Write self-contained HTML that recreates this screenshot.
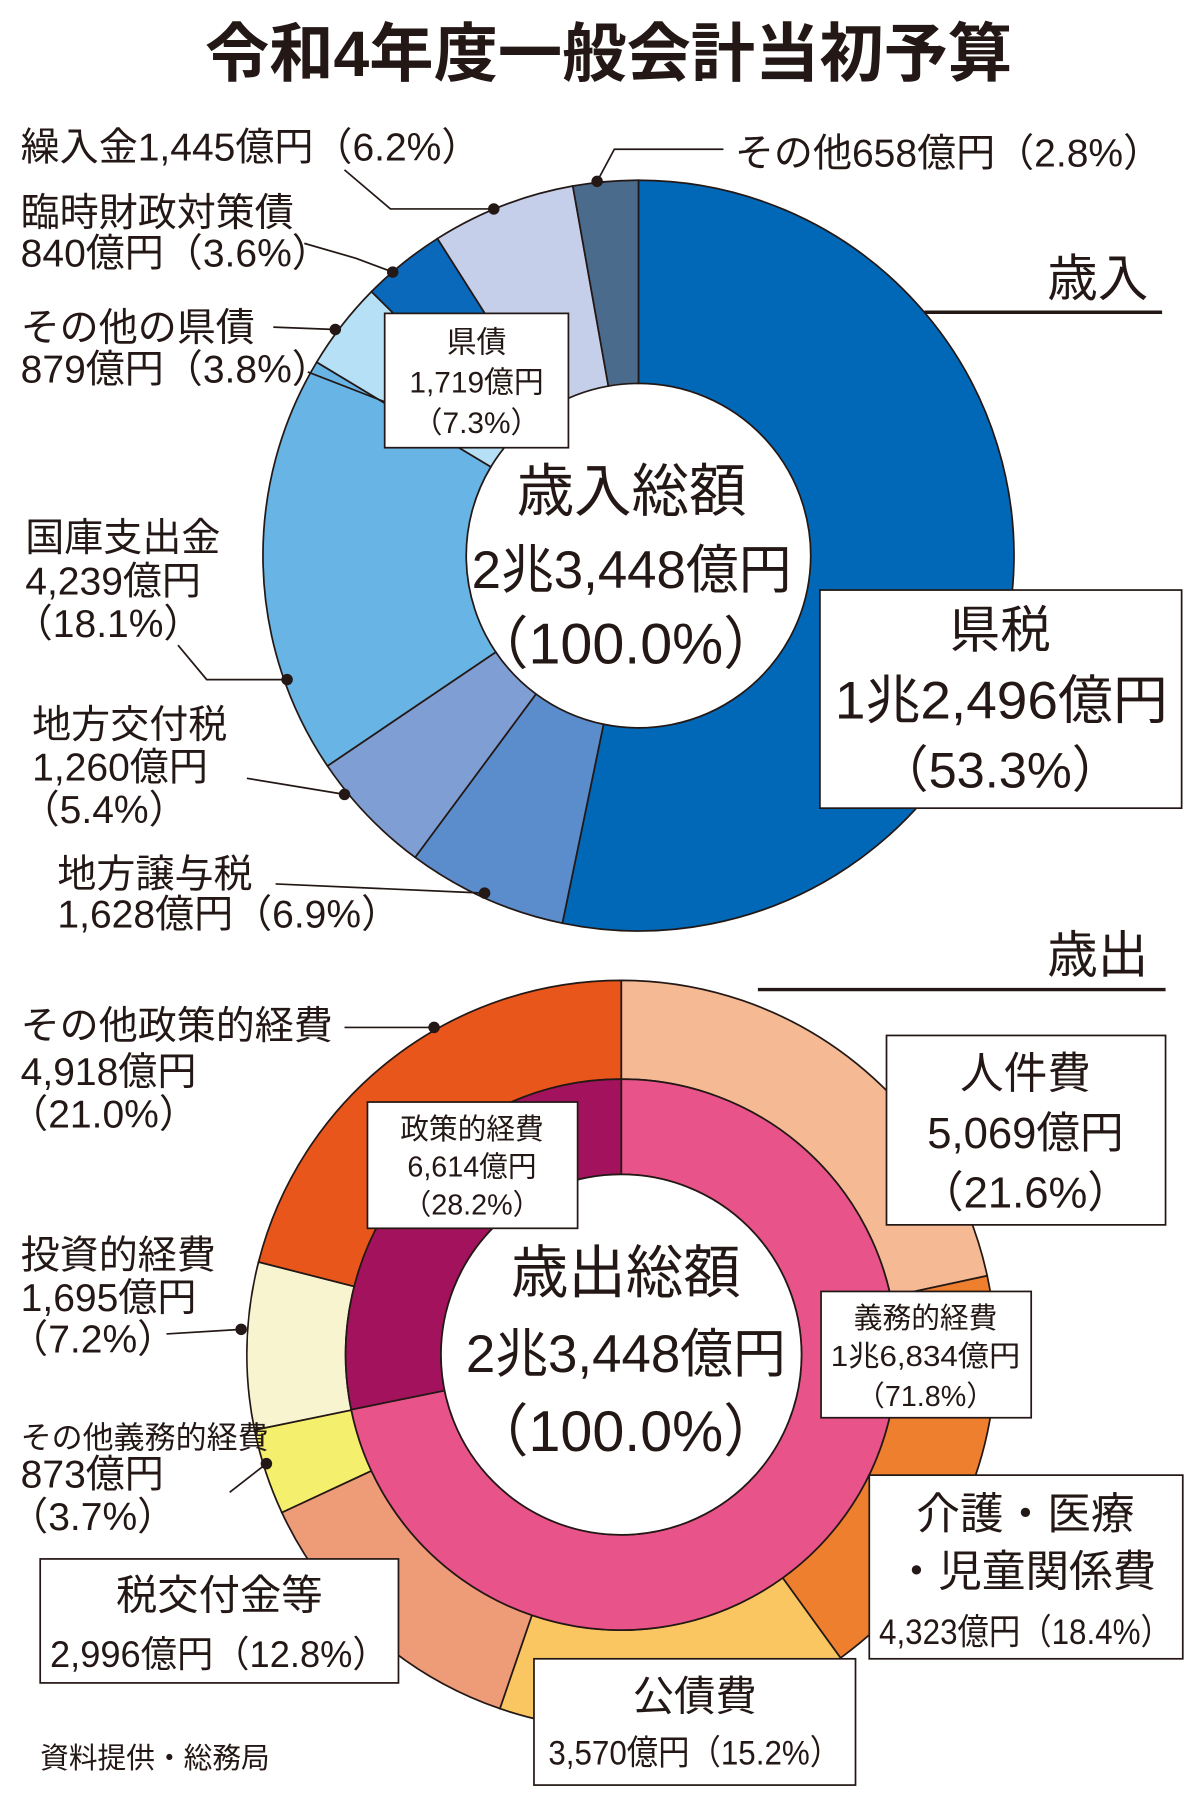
<!DOCTYPE html>
<html><head><meta charset="utf-8"><style>
html,body{margin:0;padding:0;background:#fff;}
svg{display:block;}
text{font-family:"Liberation Sans","Noto Sans CJK JP",sans-serif;fill:#231815;}
</style></head><body>
<svg id="s" width="1200" height="1800" viewBox="0 0 1045 1568" preserveAspectRatio="none" xmlns="http://www.w3.org/2000/svg">
<rect x="0" y="0" width="1045" height="1568" fill="#fff"/>
<g id="rings"></g>
<g stroke="#231815" stroke-width="1.5" fill="none">
<polyline points="300,148 340,182 430,182"/>
<polyline points="265,212 310,225 342,237"/>
<polyline points="238,285 292,287"/>
<polyline points="155,562 180,592 250,592"/>
<polyline points="215,678 300,692"/>
<polyline points="240,770 422,778"/>
<polyline points="520,158 535,130 630,130"/>
<polyline points="268,324 335,350"/>
<polyline points="300,895 378,895"/>
<polyline points="145,1162 210,1158"/>
<polyline points="200,1300 232,1275"/>
<line x1="805" y1="272" x2="1012" y2="272" stroke-width="3"/>
<line x1="660" y1="862" x2="1015" y2="862" stroke-width="3"/>
</g>
<g fill="#231815">
<circle cx="430" cy="182" r="5"/><circle cx="342" cy="237" r="5"/><circle cx="292" cy="287" r="5"/>
<circle cx="250" cy="592" r="5"/><circle cx="300" cy="692" r="5"/><circle cx="422" cy="778" r="5"/>
<circle cx="520" cy="158" r="5"/><circle cx="378" cy="895" r="5"/><circle cx="210" cy="1158" r="5"/><circle cx="232" cy="1275" r="5"/>
</g>
<text x="530" y="66" font-size="56" font-weight="bold" text-anchor="middle">令和4年度一般会計当初予算</text>
<g font-size="34">
<text x="18" y="140">繰入金1,445億円（6.2%）</text>
<text x="18" y="197">臨時財政対策債</text><text x="18" y="232">840億円（3.6%）</text>
<text x="18" y="297">その他の県債</text><text x="18" y="333">879億円（3.8%）</text>
<text x="22" y="480">国庫支出金</text><text x="22" y="518">4,239億円</text><text x="12" y="555">（18.1%）</text>
<text x="28" y="643">地方交付税</text><text x="28" y="680">1,260億円</text><text x="18" y="717">（5.4%）</text>
<text x="50" y="773">地方譲与税</text><text x="50" y="808">1,628億円（6.9%）</text>
<text x="640" y="145">その他658億円（2.8%）</text>
<text x="18" y="905">その他政策的経費</text><text x="18" y="945">4,918億円</text><text x="8" y="982">（21.0%）</text>
<text x="18" y="1105">投資的経費</text><text x="18" y="1142">1,695億円</text><text x="8" y="1178">（7.2%）</text>
<text x="18" y="1262" font-size="27">その他義務的経費</text><text x="18" y="1296">873億円</text><text x="8" y="1333">（3.7%）</text>
</g>
<text x="912" y="258" font-size="44">歳入</text>
<text x="912" y="847" font-size="44">歳出</text>
<g fill="#fff" stroke="#231815" stroke-width="1.5">
<rect x="335" y="273" width="160" height="117"/>
<rect x="714" y="514" width="315" height="190"/>
<rect x="320" y="960" width="183" height="110"/>
<rect x="772" y="902" width="243" height="165"/>
<rect x="715" y="1125" width="183" height="110"/>
<rect x="757" y="1285" width="273" height="160"/>
<rect x="35" y="1358" width="312" height="108"/>
<rect x="465" y="1445" width="280" height="110"/>
</g>
<g text-anchor="middle">
<text x="415" y="307" font-size="26">県債</text><text x="415" y="342" font-size="26">1,719億円</text><text x="415" y="377" font-size="26">（7.3%）</text>
<text x="550" y="445" font-size="50">歳入総額</text>
<text x="550" y="512" font-size="46">2兆3,448億円</text>
<text x="545" y="578" font-size="50">（100.0%）</text>
<text x="871" y="564" font-size="44">県税</text><text x="872" y="626" font-size="46" textLength="290" lengthAdjust="spacingAndGlyphs">1兆2,496億円</text><text x="871" y="686" font-size="44">（53.3%）</text>
<text x="411" y="992" font-size="25">政策的経費</text><text x="411" y="1025" font-size="25">6,614億円</text><text x="411" y="1058" font-size="25">（28.2%）</text>
<text x="893" y="948" font-size="38">人件費</text><text x="893" y="1000" font-size="38">5,069億円</text><text x="893" y="1052" font-size="38">（21.6%）</text>
<text x="545" y="1126" font-size="50">歳出総額</text>
<text x="545" y="1195" font-size="46">2兆3,448億円</text>
<text x="545" y="1264" font-size="50">（100.0%）</text>
<text x="806" y="1157" font-size="25">義務的経費</text><text x="806" y="1190" font-size="25" textLength="165" lengthAdjust="spacingAndGlyphs">1兆6,834億円</text><text x="806" y="1225" font-size="25">（71.8%）</text>
<text x="893" y="1332" font-size="38">介護・医療</text><text x="893" y="1382" font-size="38">・児童関係費</text><text x="893" y="1432" font-size="31" textLength="255" lengthAdjust="spacingAndGlyphs">4,323億円（18.4%）</text>
<text x="191" y="1402" font-size="36">税交付金等</text><text x="191" y="1452" font-size="32" textLength="295" lengthAdjust="spacingAndGlyphs">2,996億円（12.8%）</text>
<text x="605" y="1490" font-size="36">公債費</text><text x="605" y="1537" font-size="30" textLength="255" lengthAdjust="spacingAndGlyphs">3,570億円（15.2%）</text>
</g>
<text x="35" y="1540" font-size="25">資料提供・総務局</text>
</svg>
<script>
(function(){
var g=document.getElementById('rings');var NS='http://www.w3.org/2000/svg';
function pt(cx,cy,r,f){var a=f*2*Math.PI;return [cx+r*Math.sin(a),cy-r*Math.cos(a)];}
function ring(cx,cy,r0,r1,data,stroke){var tot=0;data.forEach(function(d){tot+=d[0];});var acc=0;
data.forEach(function(d){var f0=acc/tot,f1=(acc+d[0])/tot;acc+=d[0];var lg=(f1-f0)>0.5?1:0;
var a=pt(cx,cy,r1,f0),b=pt(cx,cy,r1,f1),c=pt(cx,cy,r0,f1),e=pt(cx,cy,r0,f0);
var p=document.createElementNS(NS,'path');
p.setAttribute('d','M'+a+' A'+r1+','+r1+' 0 '+lg+' 1 '+b+' L'+c+' A'+r0+','+r0+' 0 '+lg+' 0 '+e+'Z');
p.setAttribute('fill',d[1]);p.setAttribute('stroke',stroke);p.setAttribute('stroke-width','1.5');g.appendChild(p);});}
ring(556,484,150,327,[[53.3,'#0068b7'],[6.9,'#5b8dcc'],[5.4,'#7f9fd4'],[18.1,'#68b4e4'],[3.8,'#b5e0f6'],[3.6,'#0a69bb'],[6.2,'#c5cfe9'],[2.8,'#4b6b8c']],'#231815');
ring(541,1180,240,326,[[21.6,'#f5ba94'],[18.4,'#ee7f2e'],[15.2,'#f9c662'],[12.8,'#ee9b78'],[3.7,'#f5ef6e'],[7.2,'#f8f4d0'],[21.0,'#e8561b']],'#231815');
ring(541,1180,157,240,[[71.8,'#e85389'],[28.2,'#a3125d']],'#231815');
var c=document.createElementNS(NS,'circle');c.setAttribute('cx',541);c.setAttribute('cy',1180);c.setAttribute('r',157);c.setAttribute('fill','#fff');c.setAttribute('stroke','#231815');c.setAttribute('stroke-width','1.5');g.appendChild(c);
})();
</script>
</body></html>
